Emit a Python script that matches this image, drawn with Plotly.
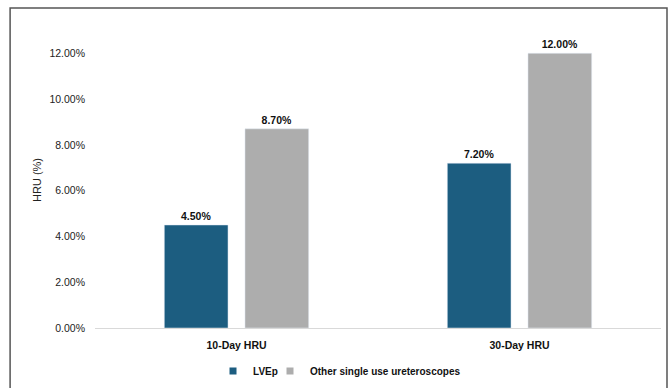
import plotly.graph_objects as go

# Hospital resource utilisation by follow-up window
categories = ["10-Day HRU", "30-Day HRU"]
lvep = [4.5, 7.2]
other_su = [8.7, 12.0]
y_ticks = [0, 2, 4, 6, 8, 10, 12]
y_tick_text = ["0.00%", "2.00%", "4.00%", "6.00%", "8.00%", "10.00%", "12.00%"]

BLUE = "#1c5d80"
GREY = "#adadad"
FONT = "Liberation Sans, Arial, sans-serif"
BOLD = dict(family=FONT, size=10.5, color="#111111", weight="bold")

fig = go.Figure()
series = [("LVEp", lvep, BLUE, "legend"), ("Other single use ureteroscopes", other_su, GREY, "legend2")]
for name, vals, col, _ in series:
    fig.add_trace(go.Bar(
        x=categories, y=vals, name=name, marker_color=col,
        text=[f"{v:.2f}%" for v in vals], textposition="outside",
        textfont=BOLD, cliponaxis=False, showlegend=False,
    ))
# Small square swatches, one legend box per entry so they sit close together
for name, vals, col, leg in series:
    fig.add_trace(go.Scatter(
        x=[None], y=[None], mode="markers", name=name, legend=leg,
        marker=dict(symbol="square", size=7, color=col),
        showlegend=True,
    ))

legend_style = dict(orientation="h", xanchor="left", y=-0.145, yanchor="middle",
                    font=dict(BOLD, size=10), itemwidth=30, bgcolor="rgba(0,0,0,0)")
fig.update_layout(
    width=670, height=388,
    margin=dict(l=95, r=9, t=32, b=60, autoexpand=False),
    paper_bgcolor="white", plot_bgcolor="white",
    barmode="group", bargap=0.43, bargroupgap=0.21,
    legend=dict(x=0.2085, **legend_style),
    legend2=dict(x=0.3092, **legend_style),
)
fig.update_xaxes(
    showgrid=False, showline=True, linecolor="#d9d9d9", linewidth=1,
    ticks="", tickfont=BOLD, ticklabelstandoff=7,
)
fig.update_yaxes(
    range=[0, 12.93], tickvals=y_ticks, ticktext=y_tick_text,
    showgrid=False, zeroline=False, showline=False, ticks="",
    tickfont=dict(family=FONT, size=10.5, color="#222222"),
    ticklabelstandoff=9,
    title=dict(text="HRU (%)", font=dict(family=FONT, size=11, color="#222222"), standoff=5),
)

# Chart-area frame
fig.add_shape(
    type="rect", xref="paper", yref="paper",
    x0=-0.150, x1=1.0106, y0=-0.215, y1=1.081,
    line=dict(color="#555555", width=1.5), fillcolor="rgba(0,0,0,0)",
)

fig.write_html("out.html")
